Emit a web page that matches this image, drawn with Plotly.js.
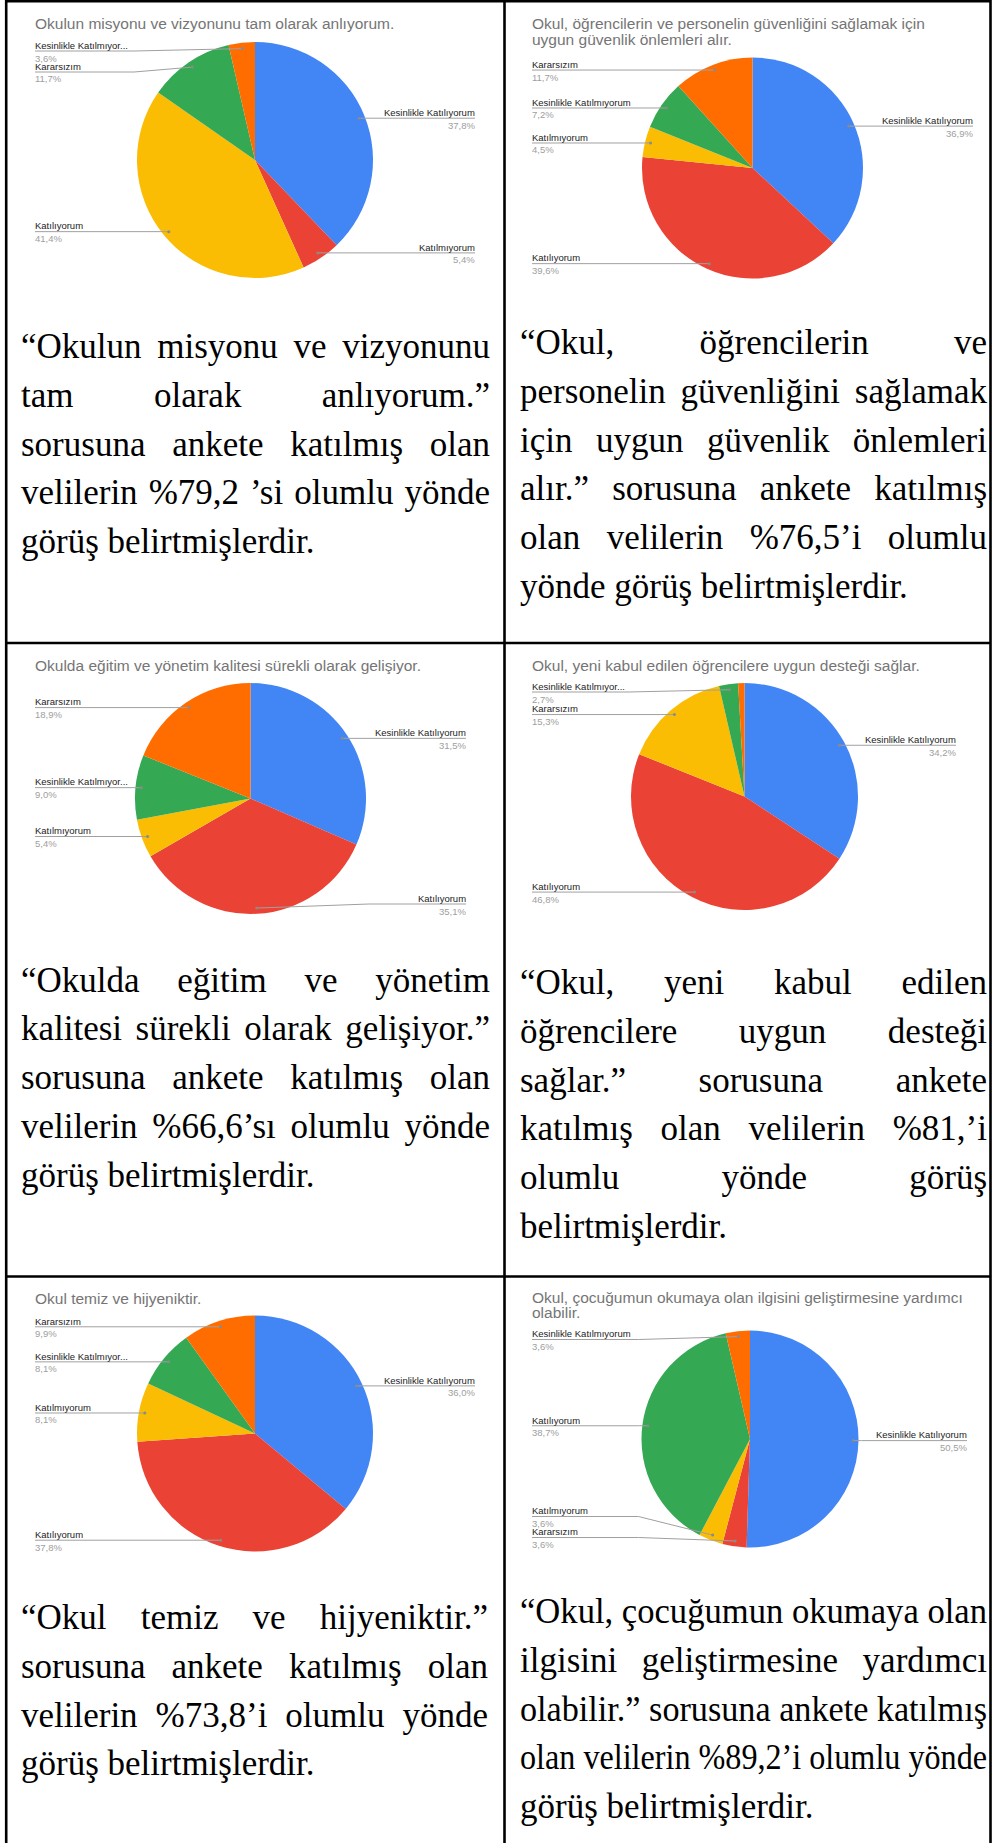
<!DOCTYPE html>
<html><head><meta charset="utf-8">
<script src="https://cdn.plot.ly/plotly-3.0.1.min.js"></script>
<style>
html,body{margin:0;padding:0;background:#fff;overflow:hidden;}
#wrap{position:relative;width:993px;height:1843px;}
#plot{position:absolute;left:0;top:0;width:993px;height:1843px;}
.para{position:absolute;font-family:"Liberation Serif","Times New Roman",serif;font-size:35px;line-height:48.75px;color:#000;pointer-events:none;}
.ln{display:block;white-space:nowrap;height:48.75px;}
.ln .t{display:inline-block;white-space:nowrap;transform-origin:0 50%;}
.ln .b{display:inline-block;width:0;height:0;vertical-align:baseline;}
</style></head><body>
<div id="wrap"><div id="plot"></div></div>
<script>
// ---------------- DATA ----------------
const sliceColors = ['#4285F4','#EA4335','#FBBC04','#34A853','#FF6D01'];

const title1 = ['Okulun misyonu ve vizyonunu tam olarak anlıyorum.'];
const labels1 = ['Kesinlikle Katılıyorum','Katılmıyorum','Katılıyorum','Kararsızım','Kesinlikle Katılmıyorum'];
const values1 = [37.8, 5.4, 41.4, 11.7, 3.6];

const title2 = ['Okul, öğrencilerin ve personelin güvenliğini sağlamak için','uygun güvenlik önlemleri alır.'];
const labels2 = ['Kesinlikle Katılıyorum','Katılıyorum','Katılmıyorum','Kesinlikle Katılmıyorum','Kararsızım'];
const values2 = [36.9, 39.6, 4.5, 7.2, 11.7];

const title3 = ['Okulda eğitim ve yönetim kalitesi sürekli olarak gelişiyor.'];
const labels3 = ['Kesinlikle Katılıyorum','Katılıyorum','Katılmıyorum','Kesinlikle Katılmıyorum','Kararsızım'];
const values3 = [31.5, 35.1, 5.4, 9.0, 18.9];

const title4 = ['Okul, yeni kabul edilen öğrencilere uygun desteği sağlar.'];
const labels4 = ['Kesinlikle Katılıyorum','Katılıyorum','Kararsızım','Kesinlikle Katılmıyorum','Katılmıyorum'];
const values4 = [34.2, 46.8, 15.3, 2.7, 0.9];

const title5 = ['Okul temiz ve hijyeniktir.'];
const labels5 = ['Kesinlikle Katılıyorum','Katılıyorum','Katılmıyorum','Kesinlikle Katılmıyorum','Kararsızım'];
const values5 = [36.0, 37.8, 8.1, 8.1, 9.9];

const title6 = ['Okul, çocuğumun okumaya olan ilgisini geliştirmesine yardımcı','olabilir.'];
const labels6 = ['Kesinlikle Katılıyorum','Kararsızım','Katılmıyorum','Katılıyorum','Kesinlikle Katılmıyorum'];
const values6 = [50.5, 3.6, 3.6, 38.7, 3.6];

const text1 = ['“Okulun misyonu ve vizyonunu','tam olarak anlıyorum.”','sorusuna ankete katılmış olan','velilerin %79,2 ’si olumlu yönde','görüş belirtmişlerdir.'];
const text2 = ['“Okul, öğrencilerin ve','personelin güvenliğini sağlamak','için uygun güvenlik önlemleri','alır.” sorusuna ankete katılmış','olan velilerin %76,5’i olumlu','yönde görüş belirtmişlerdir.'];
const text3 = ['“Okulda eğitim ve yönetim','kalitesi sürekli olarak gelişiyor.”','sorusuna ankete katılmış olan','velilerin %66,6’sı olumlu yönde','görüş belirtmişlerdir.'];
const text4 = ['“Okul, yeni kabul edilen','öğrencilere uygun desteği','sağlar.” sorusuna ankete','katılmış olan velilerin %81,’i','olumlu yönde görüş','belirtmişlerdir.'];
const text5 = ['“Okul temiz ve hijyeniktir.”','sorusuna ankete katılmış olan','velilerin %73,8’i olumlu yönde','görüş belirtmişlerdir.'];
const text6 = ['“Okul, çocuğumun okumaya olan','ilgisini geliştirmesine yardımcı','olabilir.” sorusuna ankete katılmış','olan velilerin %89,2’i olumlu yönde','görüş belirtmişlerdir.'];

// ---------------- LAYOUT ----------------
const W = 993, H = 1843;
const X = px => px / W;
const Y = py => 1 - py / H;

const charts = [
  {title:title1, labels:labels1, values:values1, cx:255,   cy:160,    r:118,   labelL:35,  labelR:475, titleBase:[29]},
  {title:title2, labels:labels2, values:values2, cx:752.5, cy:168,    r:110.5, labelL:532, labelR:973, titleBase:[28.3,44.3]},
  {title:title3, labels:labels3, values:values3, cx:250.5, cy:798.5,  r:115.5, labelL:35,  labelR:466, titleBase:[670.5]},
  {title:title4, labels:labels4, values:values4, cx:744.5, cy:796.5,  r:113.5, labelL:532, labelR:956, titleBase:[670.5]},
  {title:title5, labels:labels5, values:values5, cx:255,   cy:1433.5, r:118,   labelL:35,  labelR:475, titleBase:[1304]},
  {title:title6, labels:labels6, values:values6, cx:750,   cy:1439,   r:108.5, labelL:532, labelR:967, titleBase:[1303,1318]}
];

const paras = [
  {lines:text1, left:21,  width:469, base:358},
  {lines:text2, left:520, width:467, base:354},
  {lines:text3, left:21,  width:469, base:991.5},
  {lines:text4, left:520, width:467, base:994},
  {lines:text5, left:21,  width:467, base:1629},
  {lines:text6, left:520, width:467, base:1623}
];

const LABEL_FONT = 9.5, TITLE_FONT = 15.5;
const sansFamily = '"Liberation Sans", Arial, sans-serif';

const cvs = document.createElement('canvas');
const ctx = cvs.getContext('2d');
ctx.font = LABEL_FONT + 'px "Liberation Sans"';
function fitLabel(text, avail) {
  if (ctx.measureText(text).width <= avail - 8) return text;
  let t = text;
  while (t.length > 1 && ctx.measureText(t + '...').width > avail - 5) t = t.slice(0, -1);
  return t + '...';
}
const fmtPct = v => v.toFixed(1).replace('.', ',') + '%';

const traces = [], annotations = [], shapes = [];

charts.forEach(c => {
  traces.push({
    type:'pie', labels:c.labels, values:c.values, sort:false, direction:'clockwise', rotation:0,
    marker:{colors:sliceColors, line:{width:0}}, textinfo:'none', hoverinfo:'label+percent',
    showlegend:false,
    domain:{x:[X(c.cx - c.r), X(c.cx + c.r)], y:[Y(c.cy + c.r), Y(c.cy - c.r)]}
  });
  // title
  c.title.forEach((line, i) => {
    annotations.push({xref:'paper', yref:'paper', x:X(c.labelL), y:Y(c.titleBase[i] + 0.212*TITLE_FONT),
      xanchor:'left', yanchor:'bottom', showarrow:false, text:line, borderpad:0, borderwidth:0,
      font:{family:sansFamily, size:TITLE_FONT, color:'#757575'}});
  });
  // labels
  const total = c.values.reduce((a,b)=>a+b, 0);
  let cum = 0;
  const items = [];
  c.values.forEach((v, i) => {
    const th = 2*Math.PI*(cum + v/2)/total;
    cum += v;
    if (v < 2) return;
    const px = c.cx + 0.95*c.r*Math.sin(th);
    const py = c.cy - 0.95*c.r*Math.cos(th);
    items.push({i, v, px, py, side: px < c.cx ? 'L' : 'R', y: py});
  });
  const gap = 21, minY = c.cy - c.r + 9, maxY = c.cy + c.r - 10;
  ['L','R'].forEach(side => {
    const s = items.filter(d => d.side === side).sort((a,b) => a.py - b.py);
    if (!s.length) return;
    s[0].y = Math.max(s[0].y, minY);
    for (let k = 1; k < s.length; k++) s[k].y = Math.max(s[k].y, s[k-1].y + gap);
    s[s.length-1].y = Math.min(s[s.length-1].y, maxY);
    for (let k = s.length-2; k >= 0; k--) s[k].y = Math.min(s[k].y, s[k+1].y - gap);
  });
  items.forEach(d => {
    const left = d.side === 'L';
    const ax = left ? c.labelL : c.labelR;
    const bend = left ? Math.min(d.px, c.cx - c.r - 3) : Math.max(d.px, c.cx + c.r + 3);
    const name = left ? fitLabel(c.labels[d.i], (c.cx - c.r) - c.labelL) : c.labels[d.i];
    annotations.push({xref:'paper', yref:'paper', x:X(ax), y:Y(d.y - 0.2),
      xanchor: left ? 'left' : 'right', yanchor:'bottom', showarrow:false, text:name,
      borderpad:0, borderwidth:0, font:{family:sansFamily, size:LABEL_FONT, color:'#222222'}});
    annotations.push({xref:'paper', yref:'paper', x:X(ax), y:Y(d.y + 1.5),
      xanchor: left ? 'left' : 'right', yanchor:'top', showarrow:false, text:fmtPct(c.values[d.i]),
      borderpad:0, borderwidth:0, font:{family:sansFamily, size:LABEL_FONT, color:'#9e9e9e'}});
    shapes.push({type:'path', xref:'paper', yref:'paper',
      path:`M${X(ax)},${Y(d.y)} L${X(bend)},${Y(d.y)} L${X(d.px)},${Y(d.py)}`,
      line:{color:'#a0a0a0', width:1}});
    shapes.push({type:'circle', xref:'paper', yref:'paper',
      x0:X(d.px-1.5), x1:X(d.px+1.5), y0:Y(d.py+1.5), y1:Y(d.py-1.5),
      fillcolor:'#8a8a8a', line:{width:0}});
  });
});

// table borders
const border = {left:6.2, right:990.5, col:504.5, top:1.3, rows:[643, 1276.5]};
const bl = (x0,y0,x1,y1) => shapes.push({type:'line', xref:'paper', yref:'paper',
  x0:X(x0), y0:Y(y0), x1:X(x1), y1:Y(y1), line:{color:'#000', width:2.6}});
bl(border.left, 0, border.left, H);
bl(border.right, 0, border.right, H);
bl(border.col, 0, border.col, H);
bl(border.left, border.top, border.right, border.top);
border.rows.forEach(y => bl(border.left, y, border.right, y));

Plotly.newPlot('plot', traces, {
  width:W, height:H, margin:{l:0, r:0, t:0, b:0}, showlegend:false,
  paper_bgcolor:'#fff', plot_bgcolor:'#fff',
  annotations, shapes
}, {displayModeBar:false, staticPlot:true});

// ---------------- PARAGRAPHS ----------------
const wrap = document.getElementById('wrap');
const built = paras.map(p => {
  const div = document.createElement('div');
  div.className = 'para';
  div.style.left = p.left + 'px';
  div.style.width = p.width + 'px';
  div.style.top = (p.base - 36) + 'px';
  p.lines.forEach(l => {
    const ln = document.createElement('div');
    ln.className = 'ln';
    const b = document.createElement('span'); b.className = 'b';
    const t = document.createElement('span'); t.className = 't'; t.textContent = l;
    ln.appendChild(b); ln.appendChild(t);
    div.appendChild(ln);
  });
  wrap.appendChild(div);
  return {p, div};
});
function layoutText() {
  built.forEach(({p, div}) => {
    const first = div.querySelector('.b');
    const wr = wrap.getBoundingClientRect();
    const by = first.getBoundingClientRect().top - wr.top;
    div.style.top = (parseFloat(div.style.top) + (p.base - by)) + 'px';
    const spans = div.querySelectorAll('.t');
    spans.forEach((s, k) => {
      s.style.wordSpacing = '0px'; s.style.transform = 'none';
      const w = s.getBoundingClientRect().width;
      const n = (s.textContent.match(/ /g) || []).length;
      if (k === spans.length - 1) {
        if (w > p.width) s.style.transform = `scaleX(${p.width / w})`;
        return;
      }
      if (w < p.width && n > 0) s.style.wordSpacing = ((p.width - w) / n) + 'px';
      else if (w > p.width) s.style.transform = `scaleX(${p.width / w})`;
    });
  });
}
layoutText();
if (document.fonts && document.fonts.ready) document.fonts.ready.then(layoutText);
</script>
</body></html>
